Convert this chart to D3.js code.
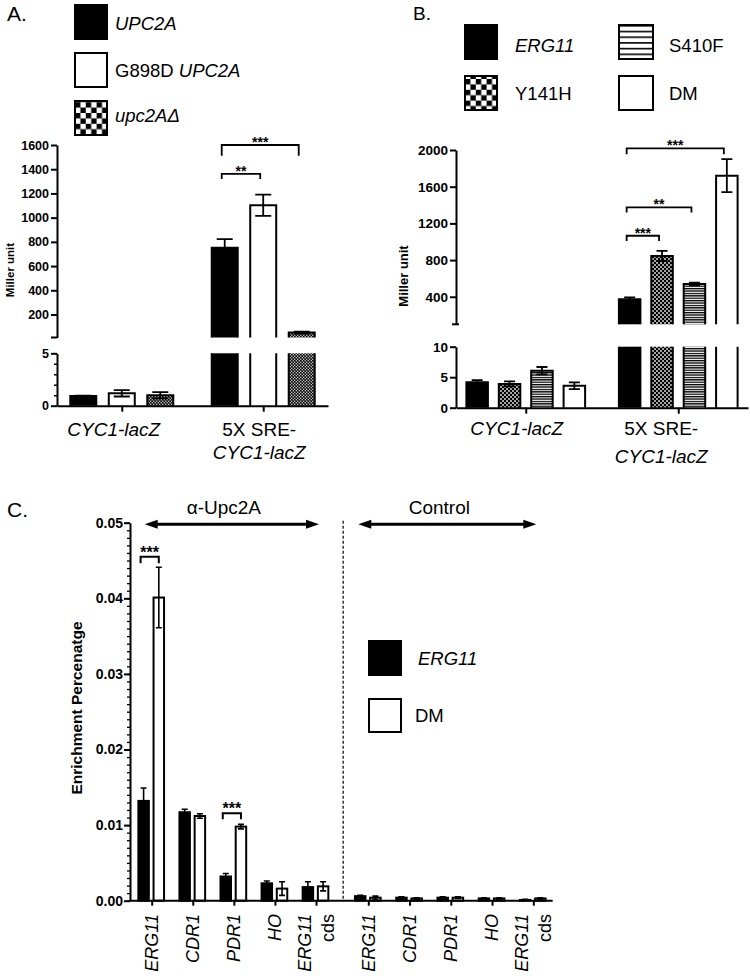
<!DOCTYPE html>
<html><head><meta charset="utf-8">
<script src="https://cdn.jsdelivr.net/npm/d3@7"></script>
<style>
body{margin:0;background:#fff}
svg{display:block}
text{font-family:"Liberation Sans",Arial,Helvetica,sans-serif;fill:#000}
</style>
</head><body>
<svg id="c" width="750" height="978"></svg>
<script>
// ---------------- DATA ----------------
// Panel A
const aGroups = ["CYC1-lacZ", "5X SRE-CYC1-lacZ"];
const aSeries = ["UPC2A", "G898D UPC2A", "upc2AΔ"];
const aMeans = [[0.92, 1.18, 0.99], [752, 1102, 51]];
const aErrs  = [[0.05, 0.30, 0.30], [70, 88, 8]];
const aUpperTicks = [200, 400, 600, 800, 1000, 1200, 1400, 1600];
const aLowerTicks = [0, 5];
const aLowerMinor = [1, 2, 3, 4];
const aBrackets = [
  {group: "5X SRE-CYC1-lacZ", from: "UPC2A", to: "upc2AΔ", level: 1600, leg: 1512, label: "***"},
  {group: "5X SRE-CYC1-lacZ", from: "UPC2A", to: "G898D UPC2A", level: 1361, leg: 1320, label: "**"}
];
// Panel B
const bGroups = ["CYC1-lacZ", "5X SRE-CYC1-lacZ"];
const bSeries = ["ERG11", "Y141H", "S410F", "DM"];
const bMeans = [[4.16, 3.9, 6.07, 3.6], [372, 845, 540, 1720]];
const bErrs  = [[0.35, 0.4, 0.6, 0.55], [22, 55, 15, 180]];
const bUpperTicks = [400, 800, 1200, 1600, 2000];
const bLowerTicks = [0, 5, 10];
const bBrackets = [
  {group: "5X SRE-CYC1-lacZ", from: "ERG11", to: "DM", level: 2018, leg: 1953, label: "***"},
  {group: "5X SRE-CYC1-lacZ", from: "ERG11", to: "S410F", level: 1375, leg: 1320, label: "**"},
  {group: "5X SRE-CYC1-lacZ", from: "ERG11", to: "Y141H", level: 1065, leg: 1008, label: "***"}
];
// Panel C
const cGenes = ["ERG11", "CDR1", "PDR1", "HO", "ERG11 cds"];
const cSeries = ["ERG11", "DM"];
const cSections = ["α-Upc2A", "Control"];
const cUpcERG11 = [0.0132, 0.0117, 0.0032, 0.0023, 0.0018];
const cUpcERG11Err = [0.0017, 0.0004, 0.0004, 0.0003, 0.0007];
const cUpcDM = [0.0401, 0.0112, 0.0098, 0.0016, 0.0019];
const cUpcDMErr = [0.0040, 0.0003, 0.0003, 0.0009, 0.0006];
const cCtlERG11 = [0.0006, 0.0004, 0.0004, 0.0003, 0.0001];
const cCtlERG11Err = [0.0001, 0.0001, 0.0001, 0.0001, 0.0001];
const cCtlDM = [0.0004, 0.0003, 0.0004, 0.0003, 0.0003];
const cCtlDMErr = [0.0002, 0.0001, 0.0001, 0.0001, 0.0001];
const cMajorTicks = [0, 0.01, 0.02, 0.03, 0.04, 0.05];
const cBrackets = [
  {gene: "ERG11", level: 0.0455, leg: 0.04463, label: "***"},
  {gene: "PDR1", level: 0.01156, leg: 0.01077, label: "***"}
];

// ---------------- DRAWING ----------------
const svg = d3.select("#c");
const defs = svg.append("defs");

function checkerPattern(id, cell, whiteSize, ox, oy) {
  const p = defs.append("pattern").attr("id", id).attr("patternUnits", "userSpaceOnUse")
    .attr("x", ox || 0).attr("y", oy || 0).attr("width", cell * 2).attr("height", cell * 2);
  p.append("rect").attr("width", cell * 2).attr("height", cell * 2).attr("fill", "#000");
  const o = (cell - whiteSize) / 2;
  p.append("rect").attr("x", cell + o).attr("y", o).attr("width", whiteSize).attr("height", whiteSize).attr("fill", "#fff");
  p.append("rect").attr("x", o).attr("y", cell + o).attr("width", whiteSize).attr("height", whiteSize).attr("fill", "#fff");
}
function stripePattern(id, period, thick, oy) {
  const p = defs.append("pattern").attr("id", id).attr("patternUnits", "userSpaceOnUse")
    .attr("x", 0).attr("y", oy || 0).attr("width", 8).attr("height", period);
  p.append("rect").attr("width", 8).attr("height", period).attr("fill", "#fff");
  p.append("rect").attr("width", 8).attr("height", thick).attr("fill", "#000");
}
checkerPattern("chkA", 1.5, 1.2);
checkerPattern("chkB", 2, 1.6);
stripePattern("strB", 2.4, 1.3);
checkerPattern("chkLegA", 5.4, 5.4, 75, 5);
checkerPattern("chkLegB", 5.4, 5.4, 465, 25);
stripePattern("strLegB", 5.7, 1.6, 25);

function legendItem(x, y, w, h, fill, parts, tx, ty) {
  svg.append("rect").attr("x", x).attr("y", y).attr("width", w).attr("height", h)
    .attr("fill", fill).attr("stroke", "#000").attr("stroke-width", 2);
  const t = svg.append("text").attr("x", tx).attr("y", ty).attr("font-size", 18.5);
  parts.forEach(pp => t.append("tspan").text(pp.t).attr("font-style", pp.i ? "italic" : "normal"));
}

function labelText(x, y, txt, size, opts) {
  opts = opts || {};
  return svg.append("text").attr("x", x).attr("y", y).attr("font-size", size)
    .attr("font-weight", opts.bold ? "bold" : "normal")
    .attr("font-style", opts.italic ? "italic" : "normal")
    .attr("text-anchor", opts.anchor || "start").text(txt);
}

function brokenPanel(o) {
  const g = svg.append("g");
  const x0 = d3.scalePoint().domain(o.groups).range([o.axisX, o.axisRight]).padding(o.groupPad);
  const x1 = d3.scaleBand().domain(o.series).range([-o.innerW / 2, o.innerW / 2])
    .paddingInner(o.pi).paddingOuter(o.pi / 2);
  const yUp = d3.scaleLinear().domain([o.upMin, o.upMax]).range([o.upBottom, o.upTop]);
  const yLo = d3.scaleLinear().domain([0, o.loMax]).range([o.loBottom, o.loTop]);
  const bw = x1.bandwidth();

  o.groups.forEach((grp, gi) => {
    o.series.forEach((s, si) => {
      const v = o.means[gi][si], e = o.errs[gi][si];
      const bx = x0(grp) + x1(s);
      const fill = o.fills[si];
      const lv = Math.min(v, o.loMax);
      g.append("rect").attr("x", bx).attr("y", yLo(lv)).attr("width", bw)
        .attr("height", yLo(0) - yLo(lv)).attr("fill", fill);
      const p = d3.path();
      if (v <= o.loMax) {
        p.moveTo(bx, yLo(0)); p.lineTo(bx, yLo(v)); p.lineTo(bx + bw, yLo(v)); p.lineTo(bx + bw, yLo(0));
      } else {
        p.moveTo(bx, yLo(0)); p.lineTo(bx, yLo(o.loMax));
        p.moveTo(bx + bw, yLo(0)); p.lineTo(bx + bw, yLo(o.loMax));
        g.append("rect").attr("x", bx).attr("y", yUp(v)).attr("width", bw)
          .attr("height", yUp(o.upMin) - yUp(v)).attr("fill", fill);
        p.moveTo(bx, yUp(o.upMin)); p.lineTo(bx, yUp(v)); p.lineTo(bx + bw, yUp(v)); p.lineTo(bx + bw, yUp(o.upMin));
      }
      g.append("path").attr("d", p.toString()).attr("fill", "none").attr("stroke", "#000").attr("stroke-width", 2);
      const ys = v > o.loMax ? yUp : yLo;
      const cx = bx + bw / 2;
      const ep = d3.path();
      ep.moveTo(cx, ys(v - e)); ep.lineTo(cx, ys(v + e));
      ep.moveTo(cx - o.cap / 2, ys(v + e)); ep.lineTo(cx + o.cap / 2, ys(v + e));
      ep.moveTo(cx - o.cap / 2, ys(v - e)); ep.lineTo(cx + o.cap / 2, ys(v - e));
      g.append("path").attr("d", ep.toString()).attr("fill", "none")
        .attr("stroke", "#000").attr("stroke-width", 1.8);
    });
  });

  const styleAxis = (sel, fs) => {
    sel.selectAll("path.domain").attr("stroke-width", 2);
    sel.selectAll(".tick line").attr("stroke-width", 2);
    sel.selectAll(".tick text").attr("font-size", fs).attr("font-weight", "bold")
      .attr("font-family", '"Liberation Sans",Arial,sans-serif').attr("fill", "#000");
  };
  const fmt = d3.format("d");
  const ga1 = g.append("g").attr("transform", `translate(${o.axisX},0)`)
    .call(d3.axisLeft(yUp).tickValues(o.upTicks).tickFormat(fmt).tickSize(6).tickSizeOuter(0).tickPadding(2));
  styleAxis(ga1, o.tickFs);
  g.append("line").attr("x1", o.axisX - o.endMarkL).attr("x2", o.axisX + o.endMarkR)
    .attr("y1", yUp(o.upMin)).attr("y2", yUp(o.upMin)).attr("stroke", "#000").attr("stroke-width", 2);
  const ga2 = g.append("g").attr("transform", `translate(${o.axisX},0)`)
    .call(d3.axisLeft(yLo).tickValues(o.loTicks).tickFormat(fmt).tickSize(6).tickSizeOuter(0).tickPadding(2));
  styleAxis(ga2, o.tickFs);
  if (o.loMinor) {
    g.append("g").attr("transform", `translate(${o.axisX},0)`)
      .call(d3.axisLeft(yLo).tickValues(o.loMinor).tickSize(3).tickFormat(""))
      .call(s => { s.select(".domain").remove(); s.selectAll(".tick line").attr("stroke-width", 1.5); });
  }
  const gx = g.append("g").attr("transform", `translate(0,${o.loBottom})`)
    .call(d3.axisBottom(x0).tickSize(6).tickSizeOuter(0).tickFormat(""));
  gx.selectAll("path.domain").attr("stroke-width", 2);
  gx.selectAll(".tick line").attr("stroke-width", 2);

  o.groups.forEach((grp, gi) => {
    const lines = o.groupLines[gi];
    lines.forEach((ln, li) => {
      labelText(x0(grp) + o.labelDx[gi], o.labelY[li], ln.t, 19, {italic: ln.i, anchor: "middle"});
    });
  });

  o.brackets.forEach(b => {
    const xa = x0(b.group) + x1(b.from) + bw / 2 - 3;
    const xb = x0(b.group) + x1(b.to) + bw / 2 - 3;
    const p = d3.path();
    p.moveTo(xa, yUp(b.leg)); p.lineTo(xa, yUp(b.level)); p.lineTo(xb, yUp(b.level)); p.lineTo(xb, yUp(b.leg));
    g.append("path").attr("d", p.toString()).attr("fill", "none").attr("stroke", "#000").attr("stroke-width", 1.8);
    labelText((xa + xb) / 2, yUp(b.level) + 2, b.label, 14, {bold: true, anchor: "middle"});
  });

  svg.append("text").attr("transform", `translate(${o.yLabelX},${o.yLabelY}) rotate(-90)`)
    .attr("text-anchor", "middle").attr("font-size", o.yLabelFs).attr("font-weight", "bold").text("Miller unit");
}

// ---- Panel A ----
labelText(7, 21, "A.", 21);
legendItem(75, 5, 32, 34, "#000", [{t: "UPC2A", i: true}], 115, 30);
legendItem(75, 53, 32, 34, "#fff", [{t: "G898D ", i: false}, {t: "UPC2A", i: true}], 115, 77);
legendItem(75, 101, 32, 34, "url(#chkLegA)", [{t: "upc2AΔ", i: true}], 115, 122);

brokenPanel({
  groups: aGroups, series: aSeries, means: aMeans, errs: aErrs,
  fills: ["#000", "#fff", "url(#chkA)"],
  axisX: 57, axisRight: 328, groupPad: 0.458, innerW: 115.5, pi: 0.325,
  upMin: 10, upMax: 1600, upBottom: 337.5, upTop: 145,
  loMax: 5, loBottom: 405.7, loTop: 353.3,
  upTicks: aUpperTicks, loTicks: aLowerTicks, loMinor: aLowerMinor,
  tickFs: 12.5, cap: 16, endMarkL: 6, endMarkR: 0,
  groupLines: [[{t: "CYC1-lacZ", i: true}], [{t: "5X SRE-", i: false}, {t: "CYC1-lacZ", i: true}]],
  labelDx: [-8, -4], labelY: [436, 459],
  brackets: aBrackets,
  yLabelX: 14, yLabelY: 270, yLabelFs: 11.5
});

// ---- Panel B ----
labelText(413, 20, "B.", 19);
legendItem(465, 25, 32, 34, "#000", [{t: "ERG11", i: true}], 515, 51.5);
legendItem(465, 76, 32, 34, "url(#chkLegB)", [{t: "Y141H", i: false}], 515, 100);
legendItem(619, 25, 34, 34, "url(#strLegB)", [{t: "S410F", i: false}], 669, 51.5);
legendItem(619, 76, 34, 34, "#fff", [{t: "DM", i: false}], 669, 100);

brokenPanel({
  groups: bGroups, series: bSeries, means: bMeans, errs: bErrs,
  fills: ["#000", "url(#chkB)", "url(#strB)", "#fff"],
  axisX: 456, axisRight: 748, groupPad: 0.4574, innerW: 129.6, pi: 0.336,
  upMin: 100, upMax: 2000, upBottom: 324.3, upTop: 150,
  loMax: 10, loBottom: 407.7, loTop: 346.7,
  upTicks: bUpperTicks, loTicks: bLowerTicks, loMinor: null,
  tickFs: 13.5, cap: 11, endMarkL: 4, endMarkR: 3,
  groupLines: [[{t: "CYC1-lacZ", i: true}], [{t: "5X SRE-", i: false}, {t: "CYC1-lacZ", i: true}]],
  labelDx: [-9, -17], labelY: [435, 463],
  brackets: bBrackets,
  yLabelX: 408, yLabelY: 276, yLabelFs: 13
});

// ---- Panel C ----
labelText(7, 517, "C.", 21);
(function () {
  const g = svg.append("g");
  const axisX = 130, axisRight = 552.7;
  const yC = d3.scaleLinear().domain([0, 0.05]).range([900.7, 522.7]);
  const xSec = [
    d3.scalePoint().domain(cGenes).range([151.7, 316]),
    d3.scalePoint().domain(cGenes).range([368.3, 533.3])
  ];
  const xIn = d3.scaleBand().domain(cSeries).range([-15.2, 15.2]).paddingInner(0.31).paddingOuter(0.155);
  const bw = xIn.bandwidth();
  const dataSets = [
    [[cUpcERG11, cUpcERG11Err], [cUpcDM, cUpcDMErr]],
    [[cCtlERG11, cCtlERG11Err], [cCtlDM, cCtlDMErr]]
  ];
  const fills = ["#000", "#fff"];
  dataSets.forEach((sec, k) => {
    const xs = xSec[k];
    cGenes.forEach((gene, gi) => {
      cSeries.forEach((s, si) => {
        const v = sec[si][0][gi], e = sec[si][1][gi];
        const bx = xs(gene) - 0.5 + xIn(s);
        g.append("rect").attr("x", bx).attr("y", yC(v)).attr("width", bw).attr("height", yC(0) - yC(v))
          .attr("fill", fills[si]).attr("stroke", "#000").attr("stroke-width", 2);
        const cx = bx + bw / 2;
        const ep = d3.path();
        ep.moveTo(cx, yC(Math.max(0, v - e))); ep.lineTo(cx, yC(v + e));
        ep.moveTo(cx - 3, yC(v + e)); ep.lineTo(cx + 3, yC(v + e));
        if (v - e > 0) { ep.moveTo(cx - 3, yC(v - e)); ep.lineTo(cx + 3, yC(v - e)); }
        g.append("path").attr("d", ep.toString()).attr("fill", "none").attr("stroke", "#000").attr("stroke-width", 1.6);
      });
    });
  });

  const gy = g.append("g").attr("transform", `translate(${axisX},0)`)
    .call(d3.axisLeft(yC).tickValues(cMajorTicks).tickFormat(d3.format(".2f")).tickSize(6).tickSizeOuter(0).tickPadding(1));
  gy.selectAll("path.domain").attr("stroke-width", 2);
  gy.selectAll(".tick line").attr("stroke-width", 2);
  gy.selectAll(".tick text").attr("font-size", 14).attr("font-weight", "bold").attr("fill", "#000")
    .attr("font-family", '"Liberation Sans",Arial,sans-serif');
  g.append("g").attr("transform", `translate(${axisX},0)`)
    .call(d3.axisLeft(yC).tickValues(d3.range(0, 51).map(i => i / 1000)).tickSize(3).tickFormat(""))
    .call(s => { s.select(".domain").remove(); s.selectAll(".tick line").attr("stroke-width", 1.3); });

  g.append("line").attr("x1", axisX).attr("x2", axisRight).attr("y1", yC(0)).attr("y2", yC(0))
    .attr("stroke", "#000").attr("stroke-width", 2);
  xSec.forEach(xs => {
    const ax = g.append("g").attr("transform", `translate(0,${yC(0)})`)
      .call(d3.axisBottom(xs).tickSize(5).tickSizeOuter(0).tickFormat(""));
    ax.select(".domain").remove();
    ax.selectAll(".tick line").attr("stroke-width", 2);
    cGenes.forEach(gene => {
      const parts = gene.split(" ");
      const t = svg.append("text").attr("transform", `translate(${xs(gene)},914) rotate(-90)`)
        .attr("text-anchor", "end").attr("font-size", 18);
      if (parts.length === 1) {
        t.append("tspan").attr("x", 0).attr("dy", "0.35em").attr("font-style", "italic").text(parts[0]);
      } else {
        t.append("tspan").attr("x", 0).attr("dy", "-0.3em").attr("font-style", "italic").text(parts[0]);
        t.append("tspan").attr("x", 0).attr("dy", "1.3em").attr("font-style", "normal").text(parts[1]);
      }
    });
  });

  const sepX = (xSec[0](cGenes[4]) + xSec[1](cGenes[0])) / 2 + 1;
  g.append("line").attr("x1", sepX).attr("x2", sepX).attr("y1", yC(0.05) - 2).attr("y2", yC(0))
    .attr("stroke", "#000").attr("stroke-width", 1.2).attr("stroke-dasharray", "3,2");

  xSec.forEach((xs, k) => {
    const xa = xs(cGenes[0]) - 7 - (k === 1 ? 3 : 0);
    const xb = xs(cGenes[4]) + 3;
    const ay = 524.3;
    g.append("line").attr("x1", xa + 6).attr("x2", xb - 6).attr("y1", ay).attr("y2", ay)
      .attr("stroke", "#000").attr("stroke-width", 3);
    g.append("path").attr("d", `M${xa},${ay} L${xa + 13},${ay - 4.5} L${xa + 13},${ay + 4.5} Z`).attr("fill", "#000");
    g.append("path").attr("d", `M${xb},${ay} L${xb - 13},${ay - 4.5} L${xb - 13},${ay + 4.5} Z`).attr("fill", "#000");
    labelText((xa + xb) / 2 - 8, 514, cSections[k], 19, {anchor: "middle"});
  });

  cBrackets.forEach(b => {
    const xa = xSec[0](b.gene) - 0.5 + xIn(cSeries[0]) + bw / 2 - 3;
    const xb = xSec[0](b.gene) - 0.5 + xIn(cSeries[1]) + bw / 2;
    const p = d3.path();
    p.moveTo(xa, yC(b.leg)); p.lineTo(xa, yC(b.level)); p.lineTo(xb, yC(b.level)); p.lineTo(xb, yC(b.leg));
    g.append("path").attr("d", p.toString()).attr("fill", "none").attr("stroke", "#000").attr("stroke-width", 2);
    labelText((xa + xb) / 2, yC(b.level) + 1, b.label, 16, {bold: true, anchor: "middle"});
  });

  svg.append("text").attr("transform", "translate(82,708) rotate(-90)").attr("text-anchor", "middle")
    .attr("font-size", 15.5).attr("font-weight", "bold").text("Enrichment Percenatge");

  legendItem(369, 641, 32, 34, "#000", [{t: "ERG11", i: true}], 418, 665);
  legendItem(369, 699, 32, 33, "#fff", [{t: "DM", i: false}], 415, 722);
})();
</script>
</body></html>
